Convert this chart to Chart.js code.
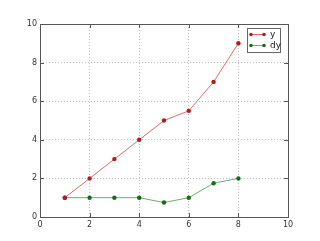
<!DOCTYPE html>
<html>
<head>
<meta charset="utf-8">
<script src="https://cdn.jsdelivr.net/npm/chart.js@4"></script>
<style>
  html, body { margin: 0; padding: 0; background: #fff; }
  #wrap { width: 320px; height: 241px; }
</style>
</head>
<body>
<div id="wrap"><canvas id="plot"></canvas></div>
<script>
// data
const xs = [1, 2, 3, 4, 5, 6, 7, 8];
const yVals = [1, 2, 3, 4, 5, 5.5, 7, 9];
const dyVals = [1, 1, 1, 1, 0.75, 1, 1.75, 2];
const axisTicks = [0, 2, 4, 6, 8, 10];

const series = [
    { label: 'y', values: yVals, line: '#e36a6a', dot: '#b01c1c' },
    { label: 'dy', values: dyVals, line: '#6cae6c', dot: '#1b6a1b' }
];

// inward tick marks + frame + legend, like the classic matplotlib look
const frame = {
    id: 'frame',
    afterDraw(chart) {
        const { ctx, chartArea: a, scales } = chart;
        ctx.save();
        ctx.strokeStyle = '#555';
        ctx.lineWidth = 1;
        axisTicks.forEach(t => {
            const px = Math.round(scales.x.getPixelForValue(t)) + 0.5;
            const py = Math.round(scales.y.getPixelForValue(t)) + 0.5;
            ctx.beginPath();
            ctx.moveTo(px, a.bottom); ctx.lineTo(px, a.bottom - 4);
            ctx.moveTo(px, a.top); ctx.lineTo(px, a.top + 4);
            ctx.moveTo(a.left, py); ctx.lineTo(a.left + 4, py);
            ctx.moveTo(a.right, py); ctx.lineTo(a.right - 4, py);
            ctx.stroke();
        });
        ctx.strokeRect(Math.round(a.left) + 0.5, Math.round(a.top) + 0.5,
            Math.round(a.right - a.left), Math.round(a.bottom - a.top));

        // legend box, top right
        const bx = Math.round(a.right) - 41, by = Math.round(a.top) + 4, bw = 33, bh = 24;
        ctx.fillStyle = '#fff';
        ctx.fillRect(bx, by, bw, bh);
        ctx.strokeStyle = '#666';
        ctx.strokeRect(bx + 0.5, by + 0.5, bw, bh);
        ctx.font = '9px "DejaVu Sans"';
        ctx.textBaseline = 'middle';
        series.forEach((s, i) => {
            const ly = by + 6.5 + i * 11;
            ctx.strokeStyle = s.line;
            ctx.beginPath();
            ctx.moveTo(bx + 4, ly); ctx.lineTo(bx + 17, ly);
            ctx.stroke();
            ctx.fillStyle = s.dot;
            [bx + 4, bx + 17].forEach(cx => {
                ctx.beginPath(); ctx.arc(cx, ly, 1.8, 0, Math.PI * 2); ctx.fill();
            });
            ctx.fillStyle = '#222';
            ctx.fillText(s.label, bx + 23, ly);
        });
        ctx.restore();
    }
};

new Chart(document.getElementById('plot'), {
    type: 'line',
    data: {
        datasets: series.map(s => ({
            label: s.label,
            data: xs.map((x, i) => ({ x: x, y: s.values[i] })),
            borderColor: s.line,
            borderWidth: 1,
            pointBackgroundColor: s.dot,
            pointBorderColor: s.dot,
            pointRadius: 2.2,
            pointBorderWidth: 0,
            tension: 0,
            fill: false
        }))
    },
    options: {
        responsive: true,
        maintainAspectRatio: false,
        animation: false,
        layout: { padding: { left: 0, right: 32, top: 24, bottom: 0 } },
        plugins: { legend: { display: false }, tooltip: { enabled: false } },
        scales: {
            x: {
                type: 'linear', min: 0, max: 10,
                afterBuildTicks: sc => { sc.ticks = axisTicks.map(v => ({ value: v })); },
                afterFit: sc => { sc.height = 24; },
                border: { display: false, dash: [1, 2] },
                grid: { color: '#bdbdbd', drawTicks: false },
                ticks: { color: '#333', font: { family: 'DejaVu Sans', size: 8 }, padding: 3, maxRotation: 0 }
            },
            y: {
                type: 'linear', min: 0, max: 10,
                afterBuildTicks: sc => { sc.ticks = axisTicks.map(v => ({ value: v })); },
                afterFit: sc => { sc.width = 40; },
                border: { display: false, dash: [1, 2] },
                grid: { color: '#bdbdbd', drawTicks: false },
                ticks: { color: '#333', font: { family: 'DejaVu Sans', size: 8 }, padding: 3 }
            }
        }
    },
    plugins: [frame]
});
</script>
</body>
</html>
